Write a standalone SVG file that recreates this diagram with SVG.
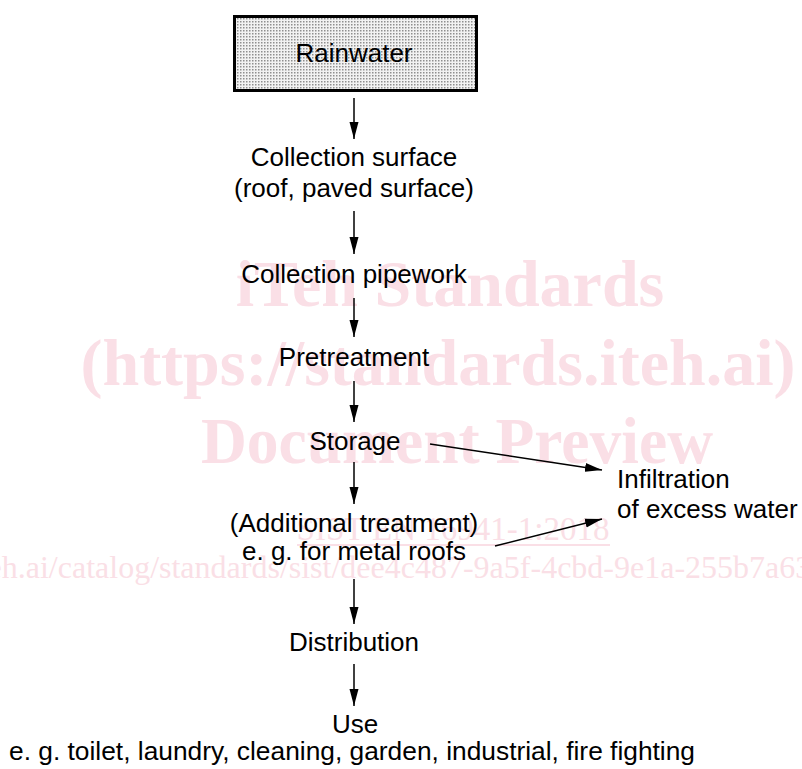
<svg xmlns="http://www.w3.org/2000/svg" width="802" height="769" viewBox="0 0 802 769">
<style>
.t{font-family:"Liberation Sans",Arial,sans-serif;font-size:26px;fill:#000;text-anchor:middle}
.s{text-anchor:start}
.w{font-family:"Liberation Serif","Times New Roman",serif;font-weight:bold;font-size:66px;fill:#fadfe6;text-anchor:middle}
.wn{font-family:"Liberation Serif","Times New Roman",serif;fill:#fadfe6}
.c{stroke:#000;stroke-width:1.5;fill:none}
</style>
<defs>
<pattern id="dots" width="3" height="3" patternUnits="userSpaceOnUse">
<rect width="3" height="3" fill="#f2f2f2"/>
<rect width="1.5" height="1.5" fill="#8f8f8f"/>
</pattern>
<marker id="ah" markerWidth="17" markerHeight="10" refX="17" refY="5" orient="auto" markerUnits="userSpaceOnUse">
<path d="M0,0.5 L17,5 L0,9.5 Z" fill="#000"/>
</marker>
</defs>
<g id="watermark">
<text class="w" x="450" y="306">iTeh Standards</text>
<text class="w" x="438" y="385">(https://standards.iteh.ai)</text>
<text class="w" x="457" y="463" textLength="512" lengthAdjust="spacingAndGlyphs">Document Preview</text>
<text class="wn" x="453" y="540" font-size="33" text-anchor="middle">SIST EN 16941-1:2018</text>
<line x1="297" y1="545" x2="610" y2="545" stroke="#fadfe6" stroke-width="2"/>
<text class="wn" x="-248" y="578" font-size="32">https://standards.iteh.ai/catalog/standards/sist/dee4c487-9a5f-4cbd-9e1a-255b7a63</text>
</g>
<g id="rainwater">
<rect x="234.5" y="16.5" width="242" height="74" fill="url(#dots)" stroke="#000" stroke-width="3"/>
<text class="t" x="354" y="62">Rainwater</text>
</g>
<g id="collection-surface">
<text class="t" x="354" y="166">Collection surface</text>
<text class="t" x="354" y="197">(roof, paved surface)</text>
</g>
<g id="collection-pipework">
<text class="t" x="354" y="283">Collection pipework</text>
</g>
<g id="pretreatment">
<text class="t" x="354" y="366">Pretreatment</text>
</g>
<g id="storage">
<text class="t" x="355" y="450">Storage</text>
</g>
<g id="additional-treatment">
<text class="t" x="354" y="532">(Additional treatment)</text>
<text class="t" x="354" y="560">e. g. for metal roofs</text>
</g>
<g id="infiltration">
<text class="t s" x="617" y="488">Infiltration</text>
<text class="t s" x="617" y="518">of excess water</text>
</g>
<g id="distribution">
<text class="t" x="354" y="651">Distribution</text>
</g>
<g id="use">
<text class="t" x="355" y="733">Use</text>
<text class="t" x="352" y="760" textLength="686" lengthAdjust="spacingAndGlyphs">e. g. toilet, laundry, cleaning, garden, industrial, fire fighting</text>
</g>
<g id="connectors">
<line class="c" x1="354" y1="98" x2="354" y2="139" marker-end="url(#ah)"/>
<line class="c" x1="354" y1="211" x2="354" y2="254" marker-end="url(#ah)"/>
<line class="c" x1="354" y1="298" x2="354" y2="337" marker-end="url(#ah)"/>
<line class="c" x1="354" y1="381" x2="354" y2="422" marker-end="url(#ah)"/>
<line class="c" x1="354" y1="462" x2="354" y2="504" marker-end="url(#ah)"/>
<line class="c" x1="354" y1="579" x2="354" y2="624" marker-end="url(#ah)"/>
<line class="c" x1="354" y1="664" x2="354" y2="706" marker-end="url(#ah)"/>
<line class="c" x1="430" y1="444" x2="602" y2="470" marker-end="url(#ah)"/>
<line class="c" x1="495" y1="546" x2="602" y2="519" marker-end="url(#ah)"/>
</g>
</svg>
